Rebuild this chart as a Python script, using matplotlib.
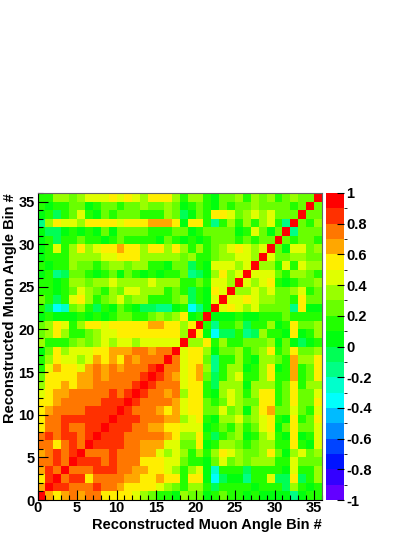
import numpy as np
import matplotlib
matplotlib.use("Agg")
import matplotlib.pyplot as plt
from matplotlib.colors import ListedColormap, BoundaryNorm
import colorsys

# ---- data: lower triangle of the correlation matrix (row r holds columns 0..r) ----
corr_lower = [
    [1],
    [.65, 1],
    [.55, .85, 1],
    [.65, .85, .75, 1],
    [.75, .75, .85, .75, 1],
    [.65, .75, .85, .75, .85, 1],
    [.75, .75, .55, .75, .85, .75, 1],
    [.75, .85, .75, .85, .85, .75, .85, 1],
    [.55, .75, .75, .85, .75, .75, .85, .85, 1],
    [.55, .75, .75, .85, .85, .85, .85, .85, .85, 1],
    [.55, .65, .75, .75, .75, .75, .85, .85, .85, .85, 1],
    [.55, .55, .65, .75, .75, .75, .75, .75, .85, .85, .85, 1],
    [.45, .55, .65, .65, .75, .75, .75, .75, .75, .85, .75, .85, 1],
    [.35, .55, .55, .65, .55, .65, .65, .75, .75, .75, .75, .75, .85, 1],
    [.25, .55, .55, .55, .55, .65, .65, .75, .65, .75, .75, .75, .75, .85, 1],
    [.15, .45, .65, .55, .55, .45, .65, .75, .65, .75, .65, .75, .75, .75, .85, 1],
    [.15, .35, .55, .45, .45, .35, .45, .65, .55, .65, .55, .75, .65, .75, .75, .75, 1],
    [.05, .25, .55, .35, .45, .45, .45, .55, .55, .65, .65, .65, .75, .75, .65, .75, .75, 1],
    [.35, .15, .15, .15, .25, .35, .25, .35, .45, .35, .45, .45, .35, .45, .45, .45, .45, .45, 1],
    [.25, .35, .55, .35, .15, .15, .25, .35, .45, .45, .55, .55, .55, .55, .55, .55, .55, .55, .35, 1],
    [.25, .35, .55, .45, .15, .35, .55, .55, .45, .55, .55, .55, .55, .55, .65, .65, .55, .55, .35, .55, 1],
    [.05, .15, .05, .05, .05, .15, .05, .15, .05, .15, .25, .25, .15, .15, .25, .35, .25, .35, .55, .05, .15, 1],
    [.15, -.05, -.35, -.25, .25, .35, .15, -.05, .15, .05, .25, .15, .05, -.05, -.05, -.15, -.15, .05, .15, -.35, -.15, .05, 1],
    [.25, .15, -.05, .15, .45, .55, .35, .15, .25, .35, .45, .25, .35, .35, .15, .15, .15, .25, .35, -.05, .15, .05, .45, 1],
    [.15, .15, .05, .15, .25, .45, .35, .25, .15, .35, .25, .45, .45, .35, .35, .35, .15, .25, .15, -.05, .15, .05, .55, .45, 1],
    [.15, .15, .05, .15, .35, .35, .25, .35, .35, .45, .35, .35, .35, .35, .45, .35, .35, .35, .15, .15, .25, .15, .45, .45, .35, 1],
    [.05, .15, -.15, -.05, .25, .25, .15, .05, .15, .25, .05, .25, .15, .05, .15, .05, .15, .15, .25, -.15, -.05, .05, .35, .55, .35, .45, 1],
    [.15, .05, .15, .15, .35, .25, .25, .15, .25, .35, .35, .25, .35, .35, .15, .15, .05, .25, .25, -.05, .15, .05, .45, .45, .45, .35, .45, 1],
    [.05, .15, .15, .15, .35, .35, .35, .35, .45, .45, .55, .55, .55, .35, .35, .35, .35, .35, .25, .35, .15, .15, .25, .35, .35, .45, .45, .35, 1],
    [.05, .15, .45, .15, .35, .55, .35, .45, .55, .55, .65, .55, .55, .35, .55, .55, .35, .55, .35, .15, .35, .15, .25, .35, .45, .55, .45, .35, .45, 1],
    [.05, .15, -.05, .15, .15, .25, .15, .15, .05, .15, .25, .15, .15, .15, .15, .05, .25, .15, .05, .15, .05, .15, .25, .25, .25, .15, .25, .15, .25, .25, 1],
    [.05, -.05, -.05, .05, .15, .05, .15, .05, .25, .05, .25, .25, .25, .25, .15, .15, .15, .25, .25, .05, .15, .25, .25, .25, .25, .05, .15, .45, .25, .05, .25, 1],
    [-.15, .35, .55, .45, .45, .35, .55, .55, .55, .55, .45, .55, .55, .55, .65, .65, .65, .55, .05, .55, .55, .15, -.15, .15, .35, .15, .35, .15, .35, .45, .15, -.15, 1],
    [.05, .15, -.05, .15, .25, .45, .15, .05, .25, .15, .25, .25, .25, .15, .15, .15, .35, .25, -.05, .05, .25, .15, .55, .55, .45, .25, .35, .45, .35, .45, .25, .25, .25, 1],
    [.15, .05, .15, .15, .25, .25, .05, .15, .25, .25, .15, .25, .25, .35, .25, .25, .35, .25, .05, .15, .25, .15, .05, .25, .15, .25, .25, .35, .25, .25, .25, .25, .15, .25, 1],
    [.15, .15, .35, .35, .25, .35, .45, .45, .45, .55, .45, .55, .45, .35, .55, .55, .55, .35, .15, .35, .35, .15, .05, .25, .25, .35, .15, .35, .25, .35, .15, .25, .35, .25, .25, 1],
]
n_bins = 36
x_ticks = [0, 5, 10, 15, 20, 25, 30, 35]
y_ticks = [0, 5, 10, 15, 20, 25, 30, 35]
cbar_ticks = [-1, -0.8, -0.6, -0.4, -0.2, 0, 0.2, 0.4, 0.6, 0.8, 1]
cbar_labels = ["-1", "-0.8", "-0.6", "-0.4", "-0.2", "0", "0.2", "0.4", "0.6", "0.8", "1"]
axis_title = "Reconstructed Muon Angle Bin #"

# ---- build symmetric matrix ----
M = np.zeros((n_bins, n_bins))
for r, row in enumerate(corr_lower):
    for c, v in enumerate(row):
        M[r, c] = v
        M[c, r] = v

# ---- ROOT "pretty palette" sampled for 20 contour levels ----
cols = []
for j in range(20):
    idx = int((j + 0.99) * 50 / 20)
    hue = 280 - (idx + 1) * 280 / 50
    cols.append(colorsys.hls_to_rgb(hue / 360.0, 0.5, 1.0))
cmap = ListedColormap(cols)
levels = np.linspace(-1, 1, 21)
norm = BoundaryNorm(levels, cmap.N)

plt.rcParams['font.family'] = ['Liberation Sans', 'DejaVu Sans']
plt.rcParams['font.weight'] = 'bold'

W, H = 415, 537
fig = plt.figure(figsize=(W / 100, H / 100), dpi=100)
x0, x1, y0, y1 = 37.5, 322.0, 193.0, 500.0
ax = fig.add_axes([x0 / W, 1 - y1 / H, (x1 - x0) / W, (y1 - y0) / H])
edges = np.arange(n_bins + 1)
Mplot = np.minimum(M, 0.999)
mesh = ax.pcolormesh(edges, edges, Mplot, cmap=cmap, norm=norm, shading='flat')
ax.set_xlim(0, n_bins)
ax.set_ylim(0, n_bins)
ax.set_xticks(x_ticks)
ax.set_yticks(y_ticks)
ax.set_xticklabels([str(t) for t in x_ticks])
ax.set_yticklabels([str(t) for t in y_ticks])
ax.set_xticks(np.arange(n_bins + 1), minor=True)
ax.set_yticks(np.arange(n_bins + 1), minor=True)
ax.tick_params(which='major', direction='in', length=7, width=0.8, labelsize=10.5)
ax.tick_params(axis='x', which='major', pad=1)
ax.tick_params(axis='y', which='major', pad=2)
ax.tick_params(which='minor', direction='in', length=3.5, width=0.8)
ax.tick_params(top=False, right=False, which='both')
for lab in ax.get_xticklabels() + ax.get_yticklabels():
    lab.set_fontweight('bold')
for s in ['top', 'right']:
    ax.spines[s].set_color('#666666')
    ax.spines[s].set_linewidth(0.8)
for s in ['left', 'bottom']:
    ax.spines[s].set_linewidth(0.8)

fig.text(x1 / W, 1 - 525 / H, axis_title, ha='right', va='center',
         fontsize=10.5, fontweight='bold')
fig.text(10 / W, 1 - y0 / H, axis_title, ha='center', va='top', rotation=90,
         fontsize=10.5, fontweight='bold')

cax = fig.add_axes([325.5 / W, 1 - y1 / H, 18 / W, (y1 - y0) / H])
cb = fig.colorbar(mesh, cax=cax, boundaries=levels, ticks=cbar_ticks)
cb.outline.set_visible(False)
cax.set_yticklabels(cbar_labels)
cax.tick_params(direction='in', length=5, width=0.8, labelsize=10.5, pad=2)
for lab in cax.get_yticklabels():
    lab.set_fontweight('bold')

fig.savefig("out.png", dpi=100)
